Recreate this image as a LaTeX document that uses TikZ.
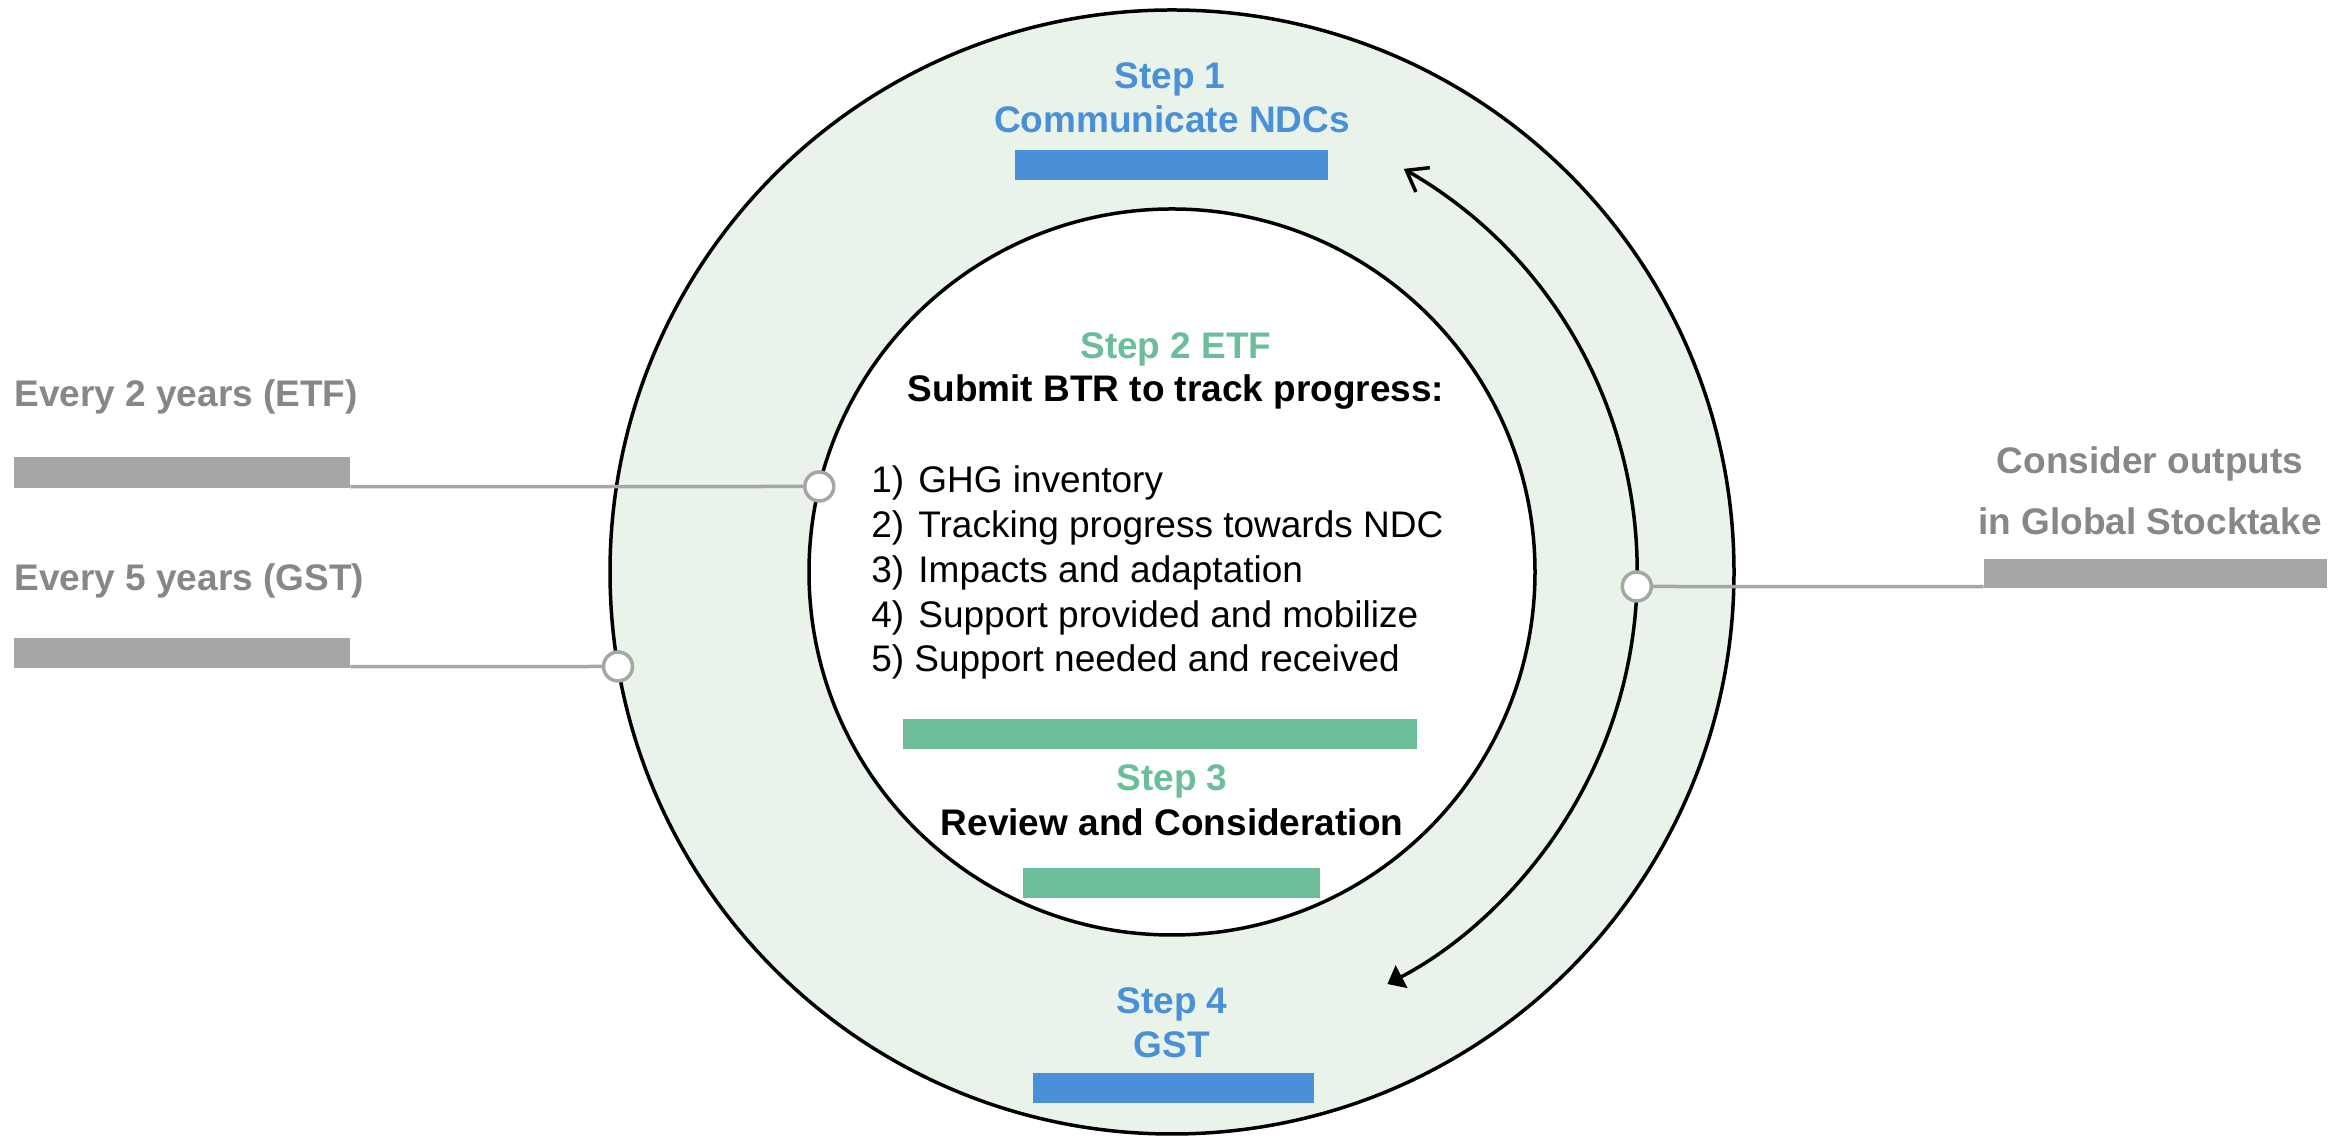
\documentclass[tikz,border=0pt]{standalone}
\usepackage{fontspec}
\setmainfont{Liberation Sans}
\usetikzlibrary{arrows.meta}
\definecolor{ringC}{HTML}{E9F3EA}
\definecolor{blueC}{HTML}{4A90D9}
\definecolor{greenC}{HTML}{6BBE99}
\definecolor{barG}{HTML}{A6A6A6}
\definecolor{txtG}{HTML}{878787}
\begin{document}
\begin{tikzpicture}[x=0.5pt,y=0.5pt,
  lbl/.style={inner sep=0pt, anchor=base, font=\bfseries\fontsize{18.5}{22}\selectfont},
  item/.style={inner sep=0pt, anchor=base west, font=\fontsize{18.5}{22}\selectfont},
  bar/.style={rectangle, inner sep=0pt, draw=none},
  dot/.style={circle, draw=barG, fill=white, line width=1.75pt, minimum size=14.5pt, inner sep=0pt},
  conn/.style={draw=barG, line width=1.75pt},
  ring/.style={line width=1.75pt, draw=black},
  cycarrow/.style={line width=1.75pt, draw=black,
    {Straight Barb[length=9.5pt,width=14pt,line width=1.75pt]}-{Triangle[length=8pt,width=12.5pt]}}]
\useasboundingbox (0,0) rectangle (2341,1138);
\coordinate (cen) at (1172,566);
% rings
\fill[ringC] (cen) circle[radius=281pt];
\draw[ring] (cen) circle[radius=281pt];
\filldraw[ring, fill=white] (cen) circle[radius=181.5pt];
% bars
\node[bar, fill=blueC, minimum width=156.5pt, minimum height=15pt] (b1) at (1171.5,973) {};
\node[bar, fill=greenC, minimum width=257pt, minimum height=15pt] (g1) at (1160,404) {};
\node[bar, fill=greenC, minimum width=148.5pt, minimum height=15pt] (g2) at (1171.5,255) {};
\node[bar, fill=blueC, minimum width=140.5pt, minimum height=15pt] (b4) at (1173.5,50) {};
\node[bar, fill=barG, minimum width=168pt, minimum height=15.5pt] (etfbar) at (182,665.5) {};
\node[bar, fill=barG, minimum width=168pt, minimum height=15pt] (gstbar) at (182,485) {};
\node[bar, fill=barG, minimum width=171.5pt, minimum height=14.5pt] (rbar) at (2155.5,564.5) {};
% step texts
\node[lbl, text=blueC] (s1a) at (1170,1049) {Step 1};
\node[lbl, text=blueC] (s1b) at (1172,1005) {Communicate NDCs};
\node[lbl, text=greenC] (s2a) at (1176,779) {Step 2 ETF};
\node[lbl] (s2b) at (1176,736) {Submit BTR to track progress:};
\node[item] (i1) at (871,645) {\makebox[23.5pt][l]{1)}GHG inventory};
\node[item] (i2) at (871,600) {\makebox[23.5pt][l]{2)}Tracking progress towards NDC};
\node[item] (i3) at (871,555) {\makebox[23.5pt][l]{3)}Impacts and adaptation};
\node[item] (i4) at (871,510) {\makebox[23.5pt][l]{4)}Support provided and mobilize};
\node[item] (i5) at (871,466) {\makebox[21.5pt][l]{5)}Support needed and received};
\node[lbl, text=greenC] (s3a) at (1172,347) {Step 3};
\node[lbl] (s3b) at (1172,302) {Review and Consideration};
\node[lbl, text=blueC] (s4a) at (1172,124) {Step 4};
\node[lbl, text=blueC] (s4b) at (1172,80) {GST};
% side texts
\node[lbl, anchor=base west, text=txtG] (t2) at (14,731) {Every 2 years (ETF)};
\node[lbl, anchor=base west, text=txtG] (t5) at (14,547) {Every 5 years (GST)};
\node[lbl, text=txtG] (r1) at (2150,664) {Consider outputs};
\node[lbl, text=txtG] (r2) at (2150,603) {in Global Stocktake};
% cycle arrow
\draw[cycarrow] (cen) ++(60.1:232.5pt) arc[start angle=60.1, end angle=-62.4, radius=232.5pt];
% connectors
\node[dot] (c1) at (819.3,651.5) {};
\node[dot] (c2) at (618,471.5) {};
\node[dot] (c3) at (1636.8,551.5) {};
\draw[conn] ([yshift=0.875pt]etfbar.south east) -- (c1);
\draw[conn] ([yshift=0.875pt]gstbar.south east) -- (c2);
\draw[conn] (c3) -- ([yshift=0.875pt]rbar.south west);
\end{tikzpicture}
\end{document}
